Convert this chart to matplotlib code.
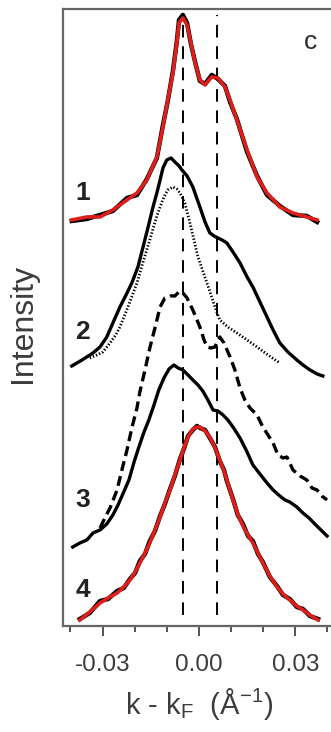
import numpy as np
import matplotlib
matplotlib.use("Agg")
import matplotlib.pyplot as plt

plt.rcParams["font.family"] = ["Liberation Sans", "DejaVu Sans"]
plt.rcParams["mathtext.fontset"] = "custom"
plt.rcParams["mathtext.rm"] = "Liberation Sans"

# momentum distribution curves, offset vertically (arb. units)
# curve 1: data + two-peak fit
k1 = [-0.0396, -0.0349, -0.0308, -0.0268, -0.0224, -0.0193, -0.0162, -0.0131,
      -0.0112, -0.0097, -0.0081, -0.0069, -0.0062, -0.0050, -0.0037, -0.0025,
      -0.0012, 0.0003, 0.0019, 0.0040, 0.0059, 0.0081, 0.0097, 0.0118,
      0.0150, 0.0181, 0.0212, 0.0252, 0.0293, 0.0336, 0.0368]
fit1 = [4.06, 4.09, 4.09, 4.16, 4.26, 4.33, 4.46, 4.69,
        4.99, 5.26, 5.53, 5.83, 6.03, 6.08, 6.01, 5.83,
        5.63, 5.46, 5.41, 5.49, 5.48, 5.39, 5.26, 5.06,
        4.76, 4.49, 4.33, 4.19, 4.13, 4.09, 4.06]
data1 = [4.05, 4.07, 4.11, 4.15, 4.28, 4.31, 4.47, 4.68,
         5.01, 5.25, 5.55, 5.84, 6.06, 6.11, 6.03, 5.82,
         5.64, 5.45, 5.42, 5.51, 5.47, 5.40, 5.24, 5.07,
         4.74, 4.50, 4.31, 4.20, 4.11, 4.10, 4.04]

# curve 2: solid and dotted
k2 = [-0.0396, -0.0364, -0.0330, -0.0308, -0.0287, -0.0268, -0.0246, -0.0227,
      -0.0209, -0.0190, -0.0174, -0.0159, -0.0143, -0.0131, -0.0121, -0.0112,
      -0.0100, -0.0087, -0.0075, -0.0062, -0.0053, -0.0037, -0.0019, 0.0003,
      0.0019, 0.0034, 0.0047, 0.0059, 0.0072, 0.0087, 0.0106, 0.0128,
      0.0150, 0.0168, 0.0190, 0.0212, 0.0231, 0.0252, 0.0277, 0.0305,
      0.0324, 0.0346, 0.0368, 0.0386]
int2 = [2.60, 2.66, 2.73, 2.79, 2.89, 3.03, 3.19, 3.31,
        3.43, 3.59, 3.79, 3.98, 4.19, 4.33, 4.46, 4.58,
        4.66, 4.68, 4.64, 4.60, 4.56, 4.50, 4.39, 4.19,
        4.04, 3.93, 3.90, 3.88, 3.86, 3.83, 3.74, 3.63,
        3.49, 3.39, 3.24, 3.09, 2.96, 2.83, 2.74, 2.66,
        2.61, 2.56, 2.52, 2.50]

k2d = [-0.0340, -0.0318, -0.0299, -0.0277, -0.0259, -0.0246, -0.0221, -0.0193,
       -0.0174, -0.0153, -0.0137, -0.0121, -0.0109, -0.0097, -0.0081, -0.0069,
       -0.0059, -0.0044, -0.0028, -0.0003, 0.0025, 0.0050, 0.0065, 0.0090,
       0.0118, 0.0150, 0.0181, 0.0215, 0.0252]
int2d = [2.68, 2.71, 2.74, 2.83, 2.91, 2.99, 3.19, 3.43,
         3.64, 3.86, 4.04, 4.19, 4.29, 4.36, 4.39, 4.37,
         4.33, 4.23, 4.03, 3.69, 3.43, 3.19, 3.06, 2.99,
         2.93, 2.86, 2.79, 2.71, 2.63]

# curve 3: dashed and solid
k3d = [-0.0308, -0.0293, -0.0277, -0.0255, -0.0240, -0.0224, -0.0209, -0.0193,
       -0.0184, -0.0168, -0.0153, -0.0137, -0.0121, -0.0106, -0.0090, -0.0075,
       -0.0059, -0.0050, -0.0037, -0.0019, 0.0003, 0.0016, 0.0025, 0.0037,
       0.0050, 0.0059, 0.0065, 0.0078, 0.0097, 0.0112, 0.0128, 0.0143,
       0.0159, 0.0181, 0.0199, 0.0215, 0.0231, 0.0246, 0.0262, 0.0274,
       0.0293, 0.0315, 0.0336, 0.0352, 0.0368, 0.0383, 0.0399]
int3d = [0.98, 1.08, 1.18, 1.36, 1.56, 1.76, 1.98, 2.18,
         2.34, 2.56, 2.78, 2.98, 3.19, 3.28, 3.30, 3.30,
         3.35, 3.33, 3.28, 3.16, 2.99, 2.86, 2.79, 2.78,
         2.79, 2.86, 2.89, 2.83, 2.69, 2.56, 2.38, 2.26,
         2.18, 2.11, 1.99, 1.91, 1.83, 1.71, 1.68, 1.69,
         1.56, 1.50, 1.46, 1.38, 1.36, 1.30, 1.26]

k3 = [-0.0393, -0.0371, -0.0349, -0.0330, -0.0308, -0.0287, -0.0268, -0.0252,
      -0.0237, -0.0218, -0.0202, -0.0187, -0.0171, -0.0156, -0.0140, -0.0125,
      -0.0109, -0.0093, -0.0078, -0.0065, -0.0050, -0.0034, -0.0019, -0.0003,
      0.0012, 0.0028, 0.0044, 0.0059, 0.0075, 0.0090, 0.0106, 0.0128,
      0.0150, 0.0168, 0.0190, 0.0212, 0.0231, 0.0252, 0.0268, 0.0283,
      0.0305, 0.0324, 0.0343, 0.0361, 0.0380, 0.0399]
int3 = [0.79, 0.83, 0.86, 0.93, 0.96, 1.02, 1.11, 1.21,
        1.32, 1.46, 1.64, 1.79, 1.94, 2.06, 2.21, 2.36,
        2.48, 2.57, 2.61, 2.58, 2.56, 2.51, 2.46, 2.41,
        2.35, 2.26, 2.16, 2.15, 2.11, 2.06, 1.99, 1.88,
        1.74, 1.61, 1.52, 1.43, 1.36, 1.30, 1.26, 1.24,
        1.19, 1.13, 1.08, 1.02, 0.96, 0.90]

# curve 4: data + single-peak fit
k4 = [-0.0371, -0.0340, -0.0308, -0.0283, -0.0255, -0.0234, -0.0215, -0.0199,
      -0.0184, -0.0168, -0.0153, -0.0137, -0.0121, -0.0106, -0.0090, -0.0075,
      -0.0059, -0.0047, -0.0034, -0.0019, -0.0006, 0.0003, 0.0019, 0.0034,
      0.0050, 0.0065, 0.0078, 0.0087, 0.0106, 0.0121, 0.0137, 0.0153,
      0.0168, 0.0184, 0.0199, 0.0221, 0.0243, 0.0262, 0.0283, 0.0305,
      0.0324, 0.0346, 0.0371]
fit4 = [0.06, 0.14, 0.23, 0.28, 0.33, 0.39, 0.46, 0.54,
        0.63, 0.73, 0.83, 0.96, 1.09, 1.23, 1.36, 1.51,
        1.66, 1.78, 1.89, 1.97, 1.99, 1.99, 1.95, 1.89,
        1.78, 1.66, 1.55, 1.46, 1.26, 1.12, 1.00, 0.91,
        0.83, 0.73, 0.63, 0.50, 0.39, 0.32, 0.26, 0.20,
        0.16, 0.11, 0.06]
data4 = [0.07, 0.13, 0.25, 0.27, 0.35, 0.38, 0.47, 0.53,
         0.65, 0.72, 0.85, 0.95, 1.10, 1.22, 1.37, 1.50,
         1.67, 1.77, 1.90, 1.96, 2.00, 1.98, 1.96, 1.88,
         1.79, 1.65, 1.56, 1.45, 1.27, 1.11, 1.02, 0.90,
         0.85, 0.72, 0.64, 0.49, 0.40, 0.31, 0.27, 0.19,
         0.17, 0.10, 0.07]

# Fermi momenta of the two bands
kf_lines = [-0.0050, 0.0055]

curve_labels = ["1", "2", "3", "4"]
label_y = [4.33, 2.94, 1.26, 0.36]

red = "#dd1f1c"
grey = "#3c3c3c"

fig = plt.figure(figsize=(3.31, 7.32), dpi=100)
ax = fig.add_axes([0.190, 0.1448, 0.825, 0.843])

ax.vlines(kf_lines, 0.11, 6.11, colors="black", linewidth=1.4,
          linestyles=(0, (6.5, 4.5)))

ax.plot(k1, data1, color="black", lw=3.2, solid_joinstyle="round")
ax.plot(k1, fit1, color=red, lw=2.6, solid_joinstyle="round")

ax.plot(k2d, int2d, color="black", lw=2.0, linestyle=(0, (0.5, 0.7)))
ax.plot(k2, int2, color="black", lw=2.4, solid_joinstyle="round")

ax.plot(k3d, int3d, color="black", lw=2.4, linestyle=(0, (3, 1.6)))
ax.plot(k3, int3, color="black", lw=2.4, solid_joinstyle="round")

ax.plot(k4, data4, color="black", lw=3.2, solid_joinstyle="round")
ax.plot(k4, fit4, color=red, lw=2.6, solid_joinstyle="round")

for lab, y in zip(curve_labels, label_y):
    ax.text(-0.0362, y, lab, fontsize=19, fontweight="bold", color="#222222",
            ha="center", va="center")
ax.text(0.0346, 5.84, "c", fontsize=19, color="#2a2a2a", ha="center",
        va="center")

ax.set_xlim(-0.04237, 0.04268)
ax.set_ylim(0, 6.17)
ax.set_xticks([-0.03, 0.0, 0.03])
ax.set_xticklabels(["-0.03", "0.00", "0.03"])
ax.set_xticks(np.arange(-0.04, 0.041, 0.01), minor=True)
ax.set_yticks([])
ax.tick_params(axis="x", which="major", length=7, width=1.4, color="#555555",
               labelsize=17.5, labelcolor=grey, pad=13)
ax.tick_params(axis="x", which="minor", length=4, width=1.4, color="#555555")

for side in ["left", "bottom", "top"]:
    ax.spines[side].set_color("#666666")
    ax.spines[side].set_linewidth(1.6)
ax.spines["right"].set_visible(False)

ax.set_xlabel(r"k - k$_\mathregular{F}$  ($\mathregular{\AA^{-1}}$)",
              fontsize=21, color=grey)
ax.xaxis.set_label_coords(0.498, -0.098)
ax.set_ylabel("Intensity", fontsize=23, color=grey)
ax.yaxis.set_label_coords(-0.092, 0.49)

fig.savefig("out.png", dpi=100)
